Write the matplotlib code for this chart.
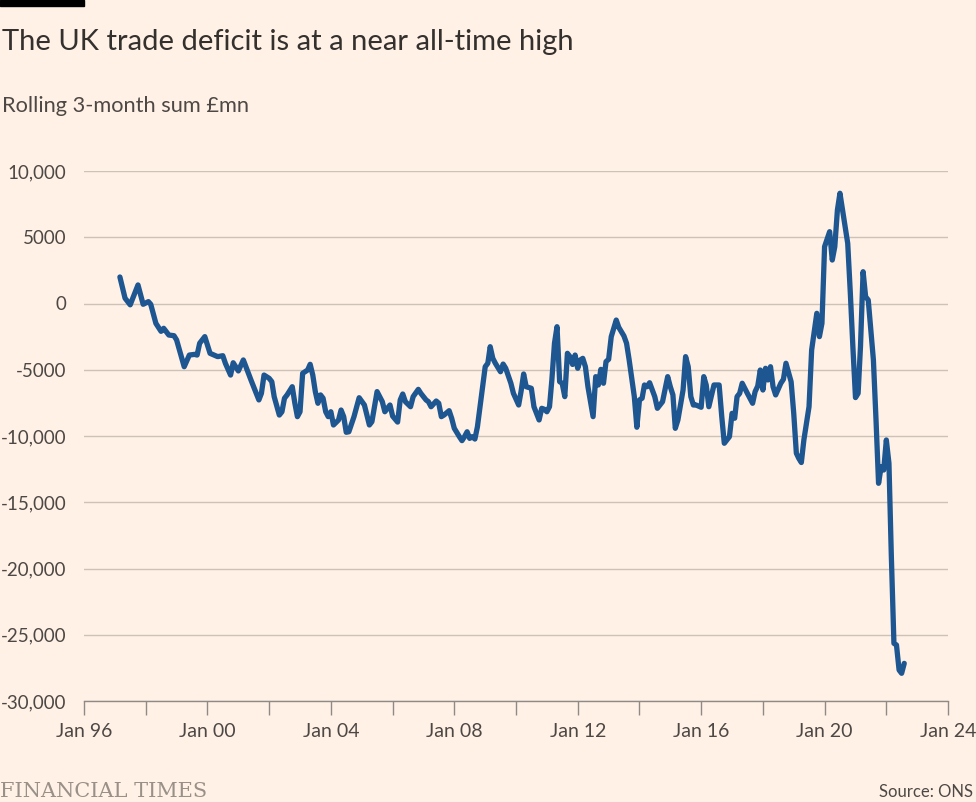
import matplotlib
matplotlib.use("Agg")
import matplotlib.pyplot as plt
import pandas as pd
from matplotlib.patches import Rectangle
from matplotlib.ticker import FuncFormatter

plt.rcParams.update({"font.family": ["Lato", "DejaVu Sans"], "svg.fonttype": "none"})

# rolling 3-month sum of UK trade balance, £mn
months = [
    "1997-03", "1997-05", "1997-07", "1997-10", "1997-12",
    "1998-02", "1998-03", "1998-05", "1998-07", "1998-08", "1998-10", "1998-12",
    "1999-01", "1999-04", "1999-06", "1999-08", "1999-09", "1999-10", "1999-12",
    "2000-02", "2000-05", "2000-07", "2000-08", "2000-10", "2000-11",
    "2001-01", "2001-03", "2001-06", "2001-08", "2001-09", "2001-10", "2001-11",
    "2002-01", "2002-02", "2002-03", "2002-05", "2002-06", "2002-07", "2002-08",
    "2002-10", "2002-11", "2002-12",
    "2003-01", "2003-02", "2003-04", "2003-05", "2003-06", "2003-07", "2003-08",
    "2003-09", "2003-10", "2003-11", "2003-12",
    "2004-01", "2004-02", "2004-04", "2004-05", "2004-06", "2004-07", "2004-08",
    "2004-10", "2004-12",
    "2005-02", "2005-04", "2005-05", "2005-07", "2005-09", "2005-10", "2005-12",
    "2006-01", "2006-03", "2006-04", "2006-05", "2006-06", "2006-08", "2006-09",
    "2006-11", "2006-12",
    "2007-02", "2007-03", "2007-04", "2007-06", "2007-07", "2007-08", "2007-09",
    "2007-11", "2007-12",
    "2008-01", "2008-03", "2008-04", "2008-05", "2008-06", "2008-07", "2008-08",
    "2008-09", "2008-10", "2008-11", "2008-12",
    "2009-01", "2009-02", "2009-03", "2009-04", "2009-05", "2009-07", "2009-08",
    "2009-09", "2009-11", "2009-12",
    "2010-02", "2010-03", "2010-04", "2010-05", "2010-07", "2010-08", "2010-10",
    "2010-11", "2010-12",
    "2011-01", "2011-02", "2011-03", "2011-04", "2011-05", "2011-06", "2011-07",
    "2011-08", "2011-09", "2011-10", "2011-11", "2011-12",
    "2012-01", "2012-02", "2012-03", "2012-04", "2012-05", "2012-07", "2012-08",
    "2012-09", "2012-10", "2012-11", "2012-12",
    "2013-01", "2013-02", "2013-04", "2013-05", "2013-07", "2013-08", "2013-09",
    "2013-11", "2013-12",
    "2014-01", "2014-02", "2014-03", "2014-04", "2014-05", "2014-07", "2014-08",
    "2014-10", "2014-12",
    "2015-01", "2015-02", "2015-03", "2015-04", "2015-06", "2015-07", "2015-08",
    "2015-09", "2015-10", "2015-11",
    "2016-01", "2016-02", "2016-03", "2016-04", "2016-06", "2016-08", "2016-09",
    "2016-10", "2016-12",
    "2017-01", "2017-02", "2017-03", "2017-04", "2017-05", "2017-07", "2017-09",
    "2017-10", "2017-11", "2017-12",
    "2018-01", "2018-02", "2018-03", "2018-04", "2018-05", "2018-06", "2018-08",
    "2018-09", "2018-10", "2018-12",
    "2019-01", "2019-02", "2019-03", "2019-04", "2019-05", "2019-07", "2019-08",
    "2019-10", "2019-11", "2019-12",
    "2020-01", "2020-03", "2020-04", "2020-05", "2020-06", "2020-07", "2020-08",
    "2020-10", "2020-11", "2020-12",
    "2021-01", "2021-02", "2021-03", "2021-04", "2021-05", "2021-06", "2021-08",
    "2021-09", "2021-10", "2021-11", "2021-12",
    "2022-01", "2022-02", "2022-03", "2022-04", "2022-05", "2022-06", "2022-07",
    "2022-08",
]
balance = [
    2000, 400, -100, 1400, -60,
    140, -60, -1500, -2100, -1870, -2380, -2430,
    -2750, -4770, -3890, -3840, -3890, -3000, -2500,
    -3760, -4010, -3940, -4520, -5400, -4470,
    -5090, -4260, -5800, -6780, -7280, -6780, -5400,
    -5650, -5900, -7030, -8420, -8170, -7150, -6900,
    -6280, -7530, -8540,
    -8170, -5270, -5020, -4590, -5400, -6650, -7530,
    -6900, -7150, -8170, -8540,
    -8170, -9170, -8790, -8040, -8540, -9720, -9680,
    -8540, -7110,
    -7660, -9170, -8920, -6650, -7410, -8170, -7660,
    -8500, -8950, -7280, -6830, -7410, -7790, -7030,
    -6480, -6780,
    -7280, -7410, -7790, -7360, -7530, -8540, -8420,
    -8090, -8660,
    -9420, -10050, -10350, -10050, -9680, -10180, -10050,
    -10230, -9300, -7790, -6280,
    -4770, -4510, -3260, -4140, -4510, -5150, -4570,
    -4890, -6020, -6780,
    -7660, -6650, -5320, -6280, -6400, -7790, -8790,
    -7910, -7980,
    -8170, -7790, -5770, -3000, -1750, -5900, -6020,
    -7030, -3760, -4010, -4600, -3890,
    -4890, -4260, -4140, -4770, -6280, -8540, -5520,
    -6150, -4970, -6020, -4390,
    -4210, -2500, -1250, -1800, -2450, -3000, -4260,
    -7030, -9340,
    -7280, -7150, -6150, -6280, -5980, -7030, -7910,
    -7410, -5520,
    -6280, -6900, -9420, -8790, -6530, -4010, -4770,
    -7030, -7660, -7660,
    -7830, -5520, -6150, -7790, -6150, -6150, -8540,
    -10550, -10050,
    -8290, -8660, -7030, -6780, -6020, -6780, -7530,
    -6650, -6230, -5020,
    -6530, -4890, -5770, -4770, -6280, -6900, -6020,
    -5720, -4510, -5900,
    -8290, -11300, -11680, -12000, -10300, -7790, -3510,
    -740, -2500, -1490,
    4290, 5420, 3280, 4290, 7060, 8320, 7060,
    4540, 770, -3260,
    -7100, -6780, -3260, 2400, 510, 260, -4260,
    -8790, -13570, -12320, -12570,
    -10300, -12060, -19000, -25650, -25770, -27660, -27910,
    -27160,
]
y_ticks = [10000, 5000, 0, -5000, -10000, -15000, -20000, -25000, -30000]
x_label_years = list(range(1996, 2025, 4))
x_tick_years = list(range(1996, 2025, 2))

bg = "#fff1e5"
dates = pd.to_datetime(months)

fig = plt.figure(figsize=(9.76, 8.02), dpi=100, facecolor=bg)
ax = fig.add_axes([84 / 976, 1 - 701 / 802, 864 / 976, 530 / 802], facecolor=bg)

ax.plot(dates, balance, color="#1d5690", linewidth=3.8,
        solid_joinstyle="round", solid_capstyle="round", zorder=3)

ax.set_xlim(pd.Timestamp("1996-01-01"), pd.Timestamp("2024-01-01"))
ax.set_ylim(-30000, 10000)
ax.set_yticks(y_ticks)
ax.yaxis.set_major_formatter(FuncFormatter(
    lambda v, _: f"{v:,.0f}" if abs(v) >= 10000 else f"{v:.0f}"))
ax.grid(axis="y", color="#cdc2b8", linewidth=1.0, zorder=1)
ax.tick_params(axis="y", length=0, pad=12.5, labelsize=13.5, labelcolor="#4d4845")

ax.set_xticks([pd.Timestamp(f"{y}-01-01") for y in x_label_years])
ax.set_xticklabels([f"Jan {y % 100:02d}" for y in x_label_years])
ax.set_xticks([pd.Timestamp(f"{y}-01-01") for y in x_tick_years
               if y not in x_label_years], minor=True)
ax.tick_params(axis="x", which="both", length=10, width=1.0, color="#8f8a85",
               direction="out", pad=6, labelsize=14, labelcolor="#4d4845")

for side in ("top", "right", "left"):
    ax.spines[side].set_visible(False)
ax.spines["bottom"].set_color("#8f8a85")
ax.spines["bottom"].set_linewidth(1.0)
ax.spines["bottom"].set_zorder(4)

fig.patches.append(Rectangle((0, 1 - 6 / 802), 84 / 976, 6 / 802,
                             transform=fig.transFigure, color="#000000"))
fig.text(2 / 976, 1 - 50 / 802, "The UK trade deficit is at a near all-time high",
         fontsize=21, color="#33302e", va="baseline", ha="left")
fig.text(2 / 976, 1 - 112 / 802, "Rolling 3-month sum £mn",
         fontsize=15.7, color="#4d4845", va="baseline", ha="left")
fig.text(0, 1 - 797 / 802, "FINANCIAL TIMES", family="DejaVu Serif",
         fontsize=15, color="#999088", va="baseline", ha="left")
fig.text(973 / 976, 1 - 797 / 802, "Source: ONS",
         fontsize=12, color="#4d4845", va="baseline", ha="right")

fig.savefig("out.png", dpi=100, facecolor=bg)
